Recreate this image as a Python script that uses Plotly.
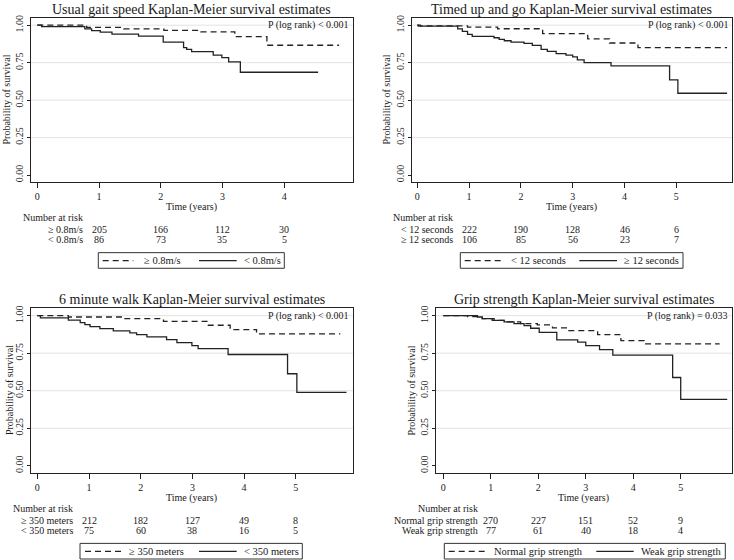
import plotly.graph_objects as go

W, H = 734, 560
FONT = "Liberation Serif"
INK = "#1a1a1a"

# ---------------- data ----------------
titles = [
    "Usual gait speed Kaplan-Meier survival estimates",
    "Timed up and go Kaplan-Meier survival estimates",
    "6 minute walk Kaplan-Meier survival estimates",
    "Grip strength Kaplan-Meier survival estimates",
]
pvalues = ["P (log rank) < 0.001", "P (log rank) < 0.001", "P (log rank) < 0.001", "P (log rank) = 0.033"]

group_names = [
    ["≥ 0.8m/s", "< 0.8m/s"],
    ["< 12 seconds", "≥ 12 seconds"],
    ["≥ 350 meters", "< 350 meters"],
    ["Normal grip strength", "Weak grip strength"],
]

# Panel 1: usual gait speed
gait_fast_t = [0, 0.8, 1.4, 2.05, 2.65, 3.2, 3.72, 4.89]
gait_fast_s = [1.0, 0.985, 0.975, 0.965, 0.955, 0.923, 0.866, 0.866]
gait_slow_t = [0, 0.07, 0.77, 0.88, 1.02, 1.21, 1.64, 2.04, 2.37, 2.42, 2.5, 2.85, 2.99, 3.1, 3.29, 4.55]
gait_slow_s = [1.0, 0.99, 0.975, 0.963, 0.953, 0.94, 0.927, 0.887, 0.85, 0.838, 0.823, 0.80, 0.783, 0.755, 0.686, 0.686]

# Panel 2: timed up and go
tug_fast_t = [0, 0.06, 0.97, 1.55, 2.42, 3.29, 3.71, 4.26, 5.98]
tug_fast_s = [1.0, 0.995, 0.987, 0.976, 0.943, 0.909, 0.881, 0.85, 0.85]
tug_slow_t = [0, 0.02, 0.78, 0.87, 0.97, 1.06, 1.48, 1.58, 1.68, 1.81, 2.06, 2.22, 2.39, 2.51, 2.68, 2.87, 3.0, 3.09, 3.22, 3.74, 4.87, 5.03, 5.98]
tug_slow_s = [1.0, 0.993, 0.975, 0.958, 0.938, 0.925, 0.916, 0.905, 0.896, 0.887, 0.878, 0.865, 0.838, 0.825, 0.81, 0.80, 0.788, 0.768, 0.75, 0.728, 0.635, 0.546, 0.546]

# Panel 3: 6 minute walk
walk_long_t = [0, 0.6, 1.66, 2.44, 3.28, 3.73, 4.24, 5.86]
walk_long_s = [1.0, 0.991, 0.98, 0.962, 0.936, 0.907, 0.878, 0.878]
walk_short_t = [0, 0.06, 0.6, 0.83, 0.92, 1.02, 1.21, 1.47, 1.79, 1.92, 2.12, 2.5, 2.7, 2.99, 3.11, 3.69, 4.84, 5.02, 5.98]
walk_short_s = [1.0, 0.985, 0.97, 0.954, 0.94, 0.927, 0.914, 0.898, 0.885, 0.874, 0.858, 0.84, 0.82, 0.80, 0.78, 0.741, 0.613, 0.489, 0.489]

# Panel 4: grip strength
grip_normal_t = [0, 0.51, 0.82, 1.07, 1.35, 1.63, 1.98, 2.3, 2.62, 3.25, 3.74, 4.23, 5.82]
grip_normal_s = [1.0, 0.993, 0.98, 0.969, 0.958, 0.947, 0.938, 0.918, 0.9, 0.874, 0.834, 0.812, 0.812]
grip_weak_t = [0, 0.72, 0.82, 1.03, 1.28, 1.49, 1.7, 1.84, 2.02, 2.39, 2.83, 3.0, 3.29, 3.57, 4.83, 5.0, 5.98]
grip_weak_s = [1.0, 0.991, 0.98, 0.969, 0.958, 0.947, 0.934, 0.916, 0.889, 0.838, 0.823, 0.8, 0.774, 0.737, 0.588, 0.442, 0.442]

# Number at risk
risk_times_p1 = [1, 2, 3, 4]
risk_times = [1, 2, 3, 4, 5]
gait_fast_risk = [205, 166, 112, 30]
gait_slow_risk = [86, 73, 35, 5]
tug_fast_risk = [222, 190, 128, 46, 6]
tug_slow_risk = [106, 85, 56, 23, 7]
walk_long_risk = [212, 182, 127, 49, 8]
walk_short_risk = [75, 60, 38, 16, 5]
grip_normal_risk = [270, 227, 151, 52, 9]
grip_weak_risk = [77, 61, 40, 18, 4]

x_ticks_p1 = [0, 1, 2, 3, 4]
x_ticks = [0, 1, 2, 3, 4, 5]
y_ticks = [0, 0.25, 0.5, 0.75, 1.0]
y_tick_text = ["0.00", "0.25", "0.50", "0.75", "1.00"]
grid_values = [0.25, 0.5, 0.75, 1.0]

curves = [
    ((gait_fast_t, gait_fast_s), (gait_slow_t, gait_slow_s)),
    ((tug_fast_t, tug_fast_s), (tug_slow_t, tug_slow_s)),
    ((walk_long_t, walk_long_s), (walk_short_t, walk_short_s)),
    ((grip_normal_t, grip_normal_s), (grip_weak_t, grip_weak_s)),
]
risks = [
    (risk_times_p1, gait_fast_risk, gait_slow_risk),
    (risk_times, tug_fast_risk, tug_slow_risk),
    (risk_times, walk_long_risk, walk_short_risk),
    (risk_times, grip_normal_risk, grip_weak_risk),
]
xticks_all = [x_ticks_p1, x_ticks, x_ticks, x_ticks]

# ---------------- layout geometry (pixels) ----------------
panels = [
    dict(box=(31, 15, 352.7, 180), xr=(-0.102, 5.11), label_right=84, ylab_x=6.5,
         leg=(98.3, 284.3), leg_items=((102.7, 133.3, 142.7), (199, 236.7, 242.7))),
    dict(box=(411.7, 15, 732, 180), xr=(-0.108, 6.075), label_right=454.3, ylab_x=386.5,
         leg=(460.3, 683), leg_items=((464.7, 502, 509.7), (579.3, 617, 623))),
    dict(box=(31, 307, 352.7, 472.3), xr=(-0.122, 6.10), label_right=74, ylab_x=9.5,
         leg=(80, 302.3), leg_items=((85, 121.7, 128.3), (199, 236.7, 242.7))),
    dict(box=(436, 307, 731.7, 472.3), xr=(-0.154, 6.074), label_right=478.7, ylab_x=412,
         leg=(444.3, 725.3), leg_items=((448.7, 487, 493), (596.3, 633.7, 640.3))),
]
YR = (-0.0464, 1.0484)


def fx(p):
    return p / W


def fy(p):
    return 1 - p / H


fig = go.Figure()
annotations = []
shapes = []
DASH = "6px,4px"
LINE = "#222222"


def note(**kw):
    base = dict(showarrow=False, borderpad=0, yanchor="middle")
    base.update(kw)
    annotations.append(base)


for i, pan in enumerate(panels):
    n = i + 1
    xa = "x" if n == 1 else f"x{n}"
    ya = "y" if n == 1 else f"y{n}"
    xkey = "xaxis" if n == 1 else f"xaxis{n}"
    ykey = "yaxis" if n == 1 else f"yaxis{n}"
    x0, y0, x1, y1 = pan["box"]
    (ta, sa), (tb, sb) = curves[i]
    fig.add_trace(go.Scatter(x=ta, y=sa, mode="lines", line=dict(shape="hv", color=LINE, width=1.3, dash=DASH),
                             xaxis=xa, yaxis=ya, showlegend=False, hoverinfo="skip"))
    fig.add_trace(go.Scatter(x=tb, y=sb, mode="lines", line=dict(shape="hv", color=LINE, width=1.3),
                             xaxis=xa, yaxis=ya, showlegend=False, hoverinfo="skip"))

    axis_common = dict(showline=True, mirror=True, linecolor="#222", linewidth=1, ticks="outside",
                       tickcolor="#222", showgrid=False, zeroline=False,
                       tickfont=dict(family=FONT, size=10, color=INK))
    fig.layout[xkey] = dict(axis_common, ticklen=5, domain=[fx(x0), fx(x1)], range=list(pan["xr"]),
                            tickvals=xticks_all[i], anchor=ya)
    fig.layout[ykey] = dict(axis_common, ticklen=3, domain=[fy(y1), fy(y0)], range=list(YR),
                            tickvals=y_ticks, ticktext=y_tick_text, tickangle=-90, anchor=xa)

    for g in grid_values:
        shapes.append(dict(type="line", xref=f"{xa} domain", yref=ya, x0=0, x1=1, y0=g, y1=g,
                           line=dict(color="#e3e3e3", width=1), layer="below"))

    cx = (x0 + x1) / 2
    f10 = dict(family=FONT, size=10, color=INK)
    note(text=titles[i], x=fx(cx), y=fy(y0 - 8.5), xref="paper", yref="paper", xanchor="center",
         font=dict(family=FONT, size=14, color=INK))
    note(text=pvalues[i], x=fx(x1 - 2.5), y=1.0, xref="paper", yref=ya, xanchor="right", font=f10)
    note(text="Probability of survival", x=fx(pan["ylab_x"]), y=fy((y0 + y1) / 2), xref="paper",
         yref="paper", textangle=-90, xanchor="center", font=f10)
    note(text="Time (years)", x=fx(cx), y=fy(y1 + 25.5), xref="paper", yref="paper", xanchor="center", font=f10)
    note(text="Number at risk", x=fx(pan["label_right"]), y=fy(y1 + 35.5), xref="paper", yref="paper",
         xanchor="right", font=f10)
    rt, ra, rb = risks[i]
    for row, (name, vals) in enumerate(zip(group_names[i], (ra, rb))):
        yy = fy(y1 + 47.5 + row * 10.5)
        note(text=name, x=fx(pan["label_right"]), y=yy, xref="paper", yref="paper", xanchor="right", font=f10)
        for t, v in zip(rt, vals):
            note(text=str(v), x=t, y=yy, xref=xa, yref="paper", xanchor="center", font=f10)
    # legend box
    lx0, lx1 = pan["leg"]
    shapes.append(dict(type="rect", xref="paper", yref="paper", x0=fx(lx0), x1=fx(lx1),
                       y0=fy(y1 + 86.7), y1=fy(y1 + 71), line=dict(color="#333", width=1),
                       fillcolor="white"))
    ly = fy(y1 + 79)
    for k, (a, b, tx) in enumerate(pan["leg_items"]):
        shapes.append(dict(type="line", xref="paper", yref="paper", x0=fx(a), x1=fx(b), y0=ly, y1=ly,
                           line=dict(color=LINE, width=1.3, dash=DASH if k == 0 else "solid")))
        note(text=group_names[i][k], x=fx(tx), y=ly, xref="paper", yref="paper", xanchor="left",
             font=dict(family=FONT, size=10.5, color=INK))

fig.update_layout(width=W, height=H, margin=dict(l=0, r=0, t=0, b=0),
                  paper_bgcolor="white", plot_bgcolor="white",
                  annotations=annotations, shapes=shapes, showlegend=False,
                  font=dict(family=FONT, color=INK))

fig.write_html("out.html", config={"displayModeBar": False},
               post_script="document.body.style.margin='0';document.body.style.overflow='hidden';")
